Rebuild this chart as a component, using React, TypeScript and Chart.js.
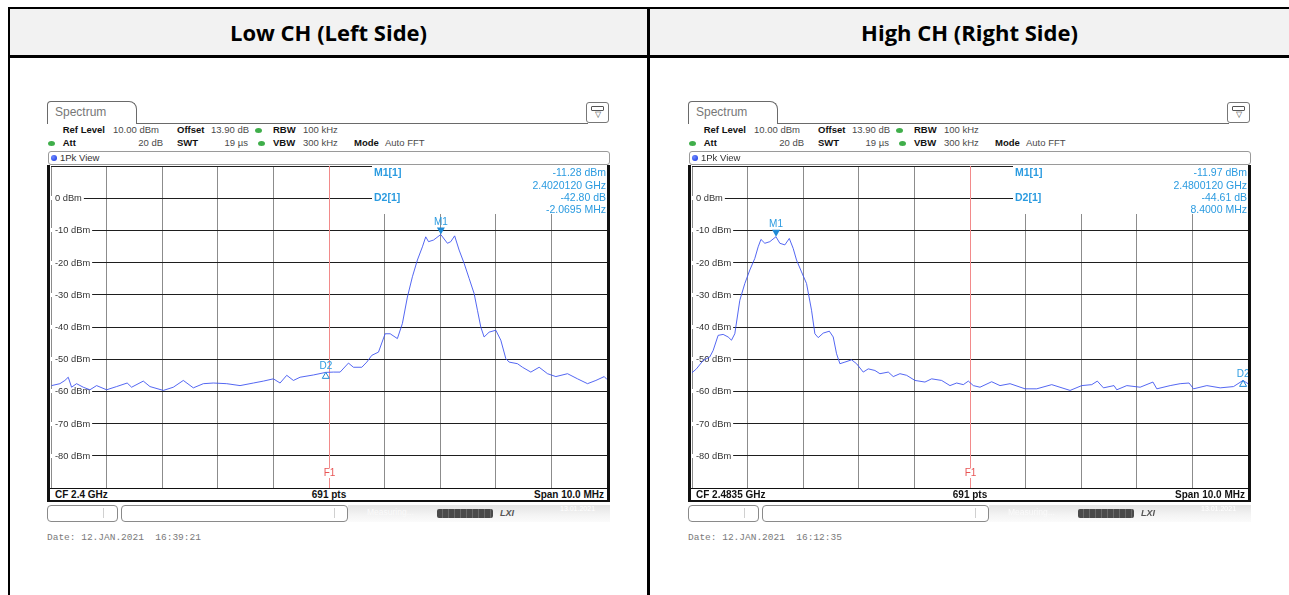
import React, { useEffect, useRef } from "react";
import { Chart, registerables } from "chart.js";

Chart.register(...registerables);

// ---------- data ----------
const yTickValues = [0, -10, -20, -30, -40, -50, -60, -70, -80];
const yTickUnit = "dBm";
const spanMinMHz = -5;
const spanMaxMHz = 5;
const refLevel = 10;
const bottomLevel = -90;

// Low channel trace: frequency offset from CF (MHz) and level (dBm)
const lowFreq = [
  -4.99, -4.84, -4.75, -4.69, -4.63, -4.54, -4.42, -4.3, -4.18, -4.0,
  -3.82, -3.63, -3.55, -3.34, -3.22, -2.98, -2.8, -2.62, -2.44, -2.26,
  -2.08, -1.84, -1.6, -1.36, -1.18, -1.0, -0.88, -0.76, -0.64, -0.52,
  -0.28, -0.06, 0.08, 0.2, 0.35, 0.44, 0.59, 0.68, 0.77, 0.89,
  1.01, 1.1, 1.23, 1.32, 1.41, 1.5, 1.59, 1.68, 1.74, 1.79,
  1.88, 2.01, 2.13, 2.19, 2.26, 2.34, 2.43, 2.52, 2.61, 2.67,
  2.73, 2.79, 2.88, 3.0, 3.09, 3.18, 3.24, 3.39, 3.48, 3.63,
  3.78, 3.93, 4.08, 4.29, 4.47, 4.65, 4.8, 4.95, 5.0,
];
const lowLevel = [
  -58.2, -57.6, -56.6, -55.6, -58.7, -57.6, -58.7, -59.5, -58.2, -59.5,
  -58.5, -57.4, -58.7, -56.8, -58.5, -59.7, -58.7, -56.6, -58.9, -57.6,
  -57.4, -57.6, -58.2, -57.4, -56.8, -56.1, -57.4, -55.0, -56.6, -55.6,
  -54.9, -54.1, -54.0, -54.0, -51.2, -52.5, -52.5, -50.9, -48.8, -47.8,
  -42.1, -42.1, -43.6, -38.9, -30.7, -24.4, -19.2, -15.1, -12.0, -13.5,
  -13.0, -11.28, -14.0, -13.5, -11.7, -16.1, -20.2, -24.9, -29.6, -34.8,
  -40.0, -43.1, -41.6, -41.0, -44.1, -49.8, -50.9, -51.4, -52.5, -54.0,
  -52.5, -54.5, -55.4, -54.5, -56.1, -57.6, -56.6, -55.4, -56.3,
];

// High channel trace
const highFreq = [
  -5.0, -4.92, -4.8, -4.68, -4.62, -4.53, -4.44, -4.35, -4.29, -4.23,
  -4.14, -4.05, -3.96, -3.87, -3.81, -3.76, -3.69, -3.6, -3.49, -3.42,
  -3.33, -3.25, -3.18, -3.12, -3.03, -2.94, -2.85, -2.79, -2.73, -2.64,
  -2.53, -2.46, -2.4, -2.34, -2.25, -2.13, -2.04, -1.92, -1.83, -1.71,
  -1.62, -1.47, -1.38, -1.26, -1.14, -0.99, -0.81, -0.69, -0.51, -0.36,
  -0.24, -0.12, -0.03, 0.06, 0.18, 0.39, 0.54, 0.72, 0.99, 1.2,
  1.47, 1.8, 2.01, 2.19, 2.29, 2.4, 2.59, 2.64, 2.82, 3.06,
  3.29, 3.36, 3.6, 3.78, 3.94, 4.02, 4.26, 4.5, 4.74, 4.91,
  5.0,
];
const highLevel = [
  -54.2, -53.0, -50.4, -49.3, -47.3, -42.6, -42.3, -43.1, -44.1, -42.1,
  -31.7, -26.5, -22.3, -18.7, -15.1, -12.8, -14.0, -13.5, -11.97, -14.0,
  -14.5, -12.5, -15.6, -19.2, -22.9, -26.5, -34.8, -42.1, -43.3, -41.9,
  -41.3, -43.1, -48.3, -51.4, -50.9, -50.2, -51.4, -54.0, -53.0, -53.5,
  -54.5, -54.0, -55.4, -54.5, -55.0, -56.6, -57.1, -56.1, -56.6, -58.2,
  -57.4, -57.9, -56.8, -58.2, -58.7, -57.0, -58.2, -57.6, -59.2, -59.2,
  -57.9, -59.7, -58.2, -57.9, -56.8, -58.9, -58.2, -59.5, -58.2, -58.7,
  -57.1, -59.2, -58.2, -57.6, -57.4, -59.2, -58.2, -58.9, -58.5, -56.6,
  -57.6,
];

// Markers [MHz offset, dBm]
const lowM1 = [2.012, -11.28];
const lowD2 = [-0.0575, -54.08];
const highM1 = [-3.488, -11.97];
const highD2 = [4.912, -56.58];

const lowMarkerText = ["-11.28 dBm", "2.4020120 GHz", "-42.80 dB", "-2.0695 MHz"];
const highMarkerText = ["-11.97 dBm", "2.4800120 GHz", "-44.61 dB", "8.4000 MHz"];

const headerTitles = ["Low CH (Left Side)", "High CH (Right Side)"];
const cfLabels = ["CF 2.4 GHz", "CF 2.4835 GHz"];
const dateLabels = ["Date: 12.JAN.2021  16:39:21", "Date: 12.JAN.2021  16:12:35"];

// ---------- styles ----------
const SANS = '"Liberation Sans", Arial, sans-serif';
const MARKER_BLUE = "#2b9be0";

type TextProps = {
  x: number;
  y: number;
  children: React.ReactNode;
  align?: "left" | "right" | "center";
  style?: React.CSSProperties;
};

function T({ x, y, children, align = "left", style }: TextProps) {
  const tx = align === "right" ? "-100%" : align === "center" ? "-50%" : "0";
  return (
    <div
      style={{
        position: "absolute",
        left: x,
        top: y,
        transform: `translate(${tx}, -50%)`,
        whiteSpace: "pre",
        lineHeight: 1.15,
        ...style,
      }}
    >
      {children}
    </div>
  );
}

function Box({ l, t, w, h, style }: { l: number; t: number; w: number; h: number; style?: React.CSSProperties }) {
  return (
    <div
      style={{
        position: "absolute",
        left: l,
        top: t,
        width: w,
        height: h,
        boxSizing: "border-box",
        ...style,
      }}
    />
  );
}

function SpectrumChart({
  freq,
  level,
  m1,
  d2,
}: {
  freq: number[];
  level: number[];
  m1: number[];
  d2: number[];
}) {
  const ref = useRef<HTMLCanvasElement | null>(null);
  useEffect(() => {
    if (!ref.current) return;
    const overlay = {
      id: "rsOverlay",
      beforeDatasetsDraw(chart: any) {
        const { ctx, chartArea: a, scales } = chart;
        const xs = scales.x;
        const ys = scales.y;
        ctx.save();
        ctx.font = `9.3px ${SANS}`;
        ctx.textBaseline = "middle";
        ctx.textAlign = "left";
        for (const v of yTickValues) {
          const py = Math.round(ys.getPixelForValue(v));
          const label = `${v} ${yTickUnit}`;
          const w = ctx.measureText(label).width;
          ctx.fillStyle = "#ffffff";
          ctx.fillRect(a.left, py - 2, 4 + w + 2, 4);
          ctx.fillStyle = "#333333";
          ctx.fillText(label, a.left + 4, py + 0.5);
        }
        const fx = Math.round(xs.getPixelForValue(0)) + 0.5;
        ctx.strokeStyle = "#f28a8a";
        ctx.lineWidth = 1;
        ctx.beginPath();
        ctx.moveTo(fx, a.top);
        ctx.lineTo(fx, a.bottom);
        ctx.stroke();
        ctx.font = `10px ${SANS}`;
        ctx.textAlign = "center";
        const fy = a.bottom - 15;
        ctx.fillStyle = "#ffffff";
        ctx.fillRect(fx - 6, fy - 5, 12, 10);
        ctx.fillStyle = "#e85555";
        ctx.fillText("F1", fx, fy);
        ctx.restore();
      },
      afterDatasetsDraw(chart: any) {
        const { ctx, scales } = chart;
        const xs = scales.x;
        const ys = scales.y;
        ctx.save();
        ctx.font = `10px ${SANS}`;
        ctx.textAlign = "center";
        ctx.textBaseline = "middle";
        const mx = xs.getPixelForValue(m1[0]);
        const my = ys.getPixelForValue(m1[1]);
        ctx.fillStyle = "#1f8ad6";
        ctx.beginPath();
        ctx.moveTo(mx - 4, my - 7);
        ctx.lineTo(mx + 4, my - 7);
        ctx.lineTo(mx, my);
        ctx.closePath();
        ctx.fill();
        ctx.fillStyle = MARKER_BLUE;
        ctx.fillText("M1", mx, my - 12);
        const dx = xs.getPixelForValue(d2[0]);
        const dy = ys.getPixelForValue(d2[1]);
        ctx.strokeStyle = "#1f8ad6";
        ctx.lineWidth = 1;
        ctx.beginPath();
        ctx.moveTo(dx, dy);
        ctx.lineTo(dx - 3.5, dy + 6);
        ctx.lineTo(dx + 3.5, dy + 6);
        ctx.closePath();
        ctx.stroke();
        ctx.fillStyle = MARKER_BLUE;
        ctx.fillText("D2", dx, dy - 6);
        ctx.restore();
      },
    };
    const chart = new Chart(ref.current, {
      type: "line",
      data: {
        datasets: [
          {
            data: freq.map((f, i) => ({ x: f, y: level[i] })),
            borderColor: "rgba(60,82,240,0.88)",
            borderWidth: 1,
            pointRadius: 0,
            tension: 0,
            fill: false,
          },
        ],
      },
      options: {
        animation: false,
        responsive: false,
        maintainAspectRatio: false,
        devicePixelRatio: 1,
        layout: { padding: 0 },
        events: [],
        plugins: { legend: { display: false }, tooltip: { enabled: false } },
        scales: {
          x: {
            type: "linear",
            min: spanMinMHz,
            max: spanMaxMHz,
            ticks: { display: false, stepSize: 1 },
            grid: { color: "#8c8c8c", drawTicks: false, lineWidth: 1 },
            border: { display: false },
            afterFit: (s: any) => {
              s.height = 0;
            },
          },
          y: {
            min: bottomLevel,
            max: refLevel,
            ticks: { display: false, stepSize: 10 },
            grid: { color: "#1e1e1e", drawTicks: false, lineWidth: 1 },
            border: { display: false },
            afterFit: (s: any) => {
              s.width = 0;
            },
          },
        },
      },
      plugins: [overlay],
    } as any);
    return () => chart.destroy();
  }, []);
  return (
    <canvas
      ref={ref}
      width={556}
      height={322}
      style={{ position: "absolute", left: 4, top: 66, width: 556, height: 322 }}
    />
  );
}

function GreenDot({ x, y }: { x: number; y: number }) {
  return (
    <div
      style={{
        position: "absolute",
        left: x - 3.5,
        top: y - 2.5,
        width: 7,
        height: 5,
        borderRadius: "50%",
        background: "#3fae4a",
      }}
    />
  );
}

function Panel({
  left,
  freq,
  level,
  m1,
  d2,
  markerText,
  cf,
  date,
}: {
  left: number;
  freq: number[];
  level: number[];
  m1: number[];
  d2: number[];
  markerText: string[];
  cf: string;
  date: string;
}) {
  const lab: React.CSSProperties = { fontSize: 9.5, fontWeight: 700, color: "#111" };
  const val: React.CSSProperties = { fontSize: 9.5, color: "#4a4a4a" };
  const mk: React.CSSProperties = { fontSize: 10.5, color: MARKER_BLUE };
  return (
    <div
      style={{
        position: "absolute",
        left,
        top: 100,
        width: 564,
        height: 445,
        fontFamily: SANS,
      }}
    >
      <Box
        l={0}
        t={1}
        w={90}
        h={23}
        style={{ border: "1px solid #6a6a6a", borderBottom: "none", borderRadius: "4px 8px 0 0" }}
      />
      <T x={8} y={13} style={{ fontSize: 12, color: "#777" }}>
        Spectrum
      </T>
      <Box l={89} t={23} w={452} h={1} style={{ background: "#6a6a6a" }} />
      <Box l={539} t={2} w={23} h={21} style={{ border: "1px solid #777", borderRadius: 3, background: "#fff" }} />
      <Box l={544} t={6} w={13} h={5} style={{ border: "1px solid #555", borderRadius: 1 }} />
      <T x={550.5} y={15} align="center" style={{ fontSize: 8, color: "#444" }}>
        ▽
      </T>

      <T x={15.7} y={30} style={lab}>Ref Level</T>
      <T x={66} y={30} style={val}>10.00 dBm</T>
      <T x={130} y={30} style={lab}>Offset</T>
      <T x={164} y={30} style={val}>13.90 dB</T>
      <GreenDot x={211} y={30} />
      <T x={226} y={30} style={lab}>RBW</T>
      <T x={256} y={30} style={val}>100 kHz</T>

      <GreenDot x={4} y={43} />
      <T x={15.7} y={43} style={lab}>Att</T>
      <T x={116} y={43} align="right" style={val}>20 dB</T>
      <T x={130} y={43} style={lab}>SWT</T>
      <T x={201} y={43} align="right" style={val}>19 µs</T>
      <GreenDot x={214} y={43} />
      <T x={226} y={43} style={lab}>VBW</T>
      <T x={256} y={43} style={val}>300 kHz</T>
      <T x={307} y={43} style={lab}>Mode</T>
      <T x={338} y={43} style={val}>Auto FFT</T>

      <Box l={1} t={51} w={562} h={14} style={{ border: "1px solid #9a9a9a", borderRadius: 3 }} />
      <div
        style={{
          position: "absolute",
          left: 4,
          top: 55,
          width: 6,
          height: 6,
          borderRadius: "50%",
          background: "radial-gradient(circle at 35% 35%, #6f8bff, #1230e0)",
        }}
      />
      <T x={13} y={58} style={{ fontSize: 9.5, color: "#333" }}>1Pk View</T>

      <SpectrumChart freq={freq} level={level} m1={m1} d2={d2} />

      <Box l={0} t={65} w={3} h={337} style={{ background: "#111" }} />
      <Box l={560} t={65} w={3} h={337} style={{ background: "#111" }} />
      <Box l={0} t={388} w={563} h={1} style={{ background: "#111" }} />
      <Box l={0} t={400} w={563} h={2} style={{ background: "#111" }} />
      <T x={8} y={395} style={{ fontSize: 10, fontWeight: 700, color: "#111" }}>{cf}</T>
      <T x={282} y={395} align="center" style={{ fontSize: 10, fontWeight: 700, color: "#111" }}>691 pts</T>
      <T x={557} y={395} align="right" style={{ fontSize: 10, fontWeight: 700, color: "#111" }}>Span 10.0 MHz</T>

      <div
        style={{
          position: "absolute",
          left: 325,
          top: 66,
          width: 235,
          height: 48,
          background: "#fff",
        }}
      >
        <T x={2} y={6} style={{ ...mk, fontWeight: 700 }}>M1[1]</T>
        <T x={234} y={6} align="right" style={mk}>{markerText[0]}</T>
        <T x={234} y={18.5} align="right" style={mk}>{markerText[1]}</T>
        <T x={2} y={31} style={{ ...mk, fontWeight: 700 }}>D2[1]</T>
        <T x={234} y={31} align="right" style={mk}>{markerText[2]}</T>
        <T x={234} y={43} align="right" style={mk}>{markerText[3]}</T>
      </div>

      <Box l={0} t={405} w={71} h={17} style={{ border: "1px solid #8a8a8a", borderRadius: 4 }} />
      <Box l={56} t={408} w={1} h={10} style={{ background: "#d0d0d0" }} />
      <Box l={74} t={405} w={227} h={17} style={{ border: "1px solid #8a8a8a", borderRadius: 4 }} />
      <Box l={287} t={408} w={1} h={10} style={{ background: "#d0d0d0" }} />
      <Box
        l={301}
        t={405}
        w={262}
        h={17}
        style={{ background: "linear-gradient(180deg, #e4e4e4 0%, #f4f4f4 60%, #fbfbfb 100%)" }}
      />
      <T x={320} y={413} style={{ fontSize: 8.5, color: "#fafafa" }}>Measuring...</T>
      <Box
        l={390}
        t={409}
        w={56}
        h={9}
        style={{
          borderRadius: 2,
          background: "repeating-linear-gradient(90deg, #4a4a4a 0px, #4a4a4a 5px, #6a6a6a 5px, #6a6a6a 6px)",
        }}
      />
      <T x={453} y={413} style={{ fontSize: 9, fontWeight: 700, fontStyle: "italic", color: "#555" }}>LXI</T>
      <T x={513} y={409} style={{ fontSize: 7, color: "#ffffff" }}>13.01.2021</T>

      <T x={0} y={438} style={{ fontFamily: '"Liberation Mono", monospace', fontSize: 9.5, color: "#7a7a7a" }}>
        {date}
      </T>
    </div>
  );
}

export default function App() {
  const titleStyle: React.CSSProperties = {
    fontFamily: '"Open Sans", sans-serif',
    fontWeight: 700,
    fontSize: 22,
    color: "#000",
    letterSpacing: 0,
  };
  return (
    <div
      style={{
        position: "absolute",
        left: 0,
        top: 0,
        width: 1289,
        height: 595,
        overflow: "hidden",
        background: "#fff",
      }}
    >
      <Box l={10} t={9} w={637} h={46} style={{ background: "#f2f2f2" }} />
      <Box l={650} t={9} w={639} h={46} style={{ background: "#f2f2f2" }} />
      <Box l={8} t={7} w={1281} h={2} style={{ background: "#000" }} />
      <Box l={8} t={7} w={2} h={588} style={{ background: "#000" }} />
      <Box l={647} t={7} w={3} h={588} style={{ background: "#000" }} />
      <Box l={8} t={55} w={1281} h={3} style={{ background: "#000" }} />
      <T x={328.5} y={32.5} align="center" style={titleStyle}>
        {headerTitles[0]}
      </T>
      <T x={969.5} y={32.5} align="center" style={titleStyle}>
        {headerTitles[1]}
      </T>

      <Panel
        left={47}
        freq={lowFreq}
        level={lowLevel}
        m1={lowM1}
        d2={lowD2}
        markerText={lowMarkerText}
        cf={cfLabels[0]}
        date={dateLabels[0]}
      />
      <Panel
        left={688}
        freq={highFreq}
        level={highLevel}
        m1={highM1}
        d2={highD2}
        markerText={highMarkerText}
        cf={cfLabels[1]}
        date={dateLabels[1]}
      />
    </div>
  );
}
